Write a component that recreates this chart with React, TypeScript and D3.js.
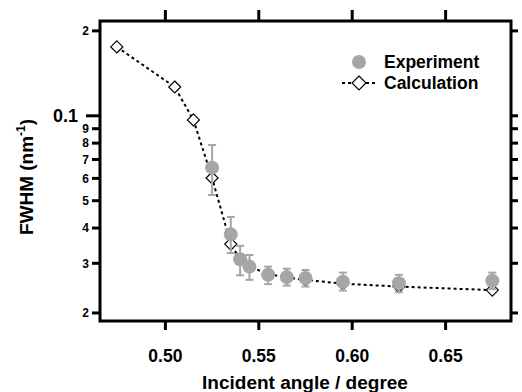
import React from "react";
import * as d3 from "d3";

const calcX = [0.474, 0.505, 0.515, 0.525, 0.535, 0.54, 0.545, 0.555, 0.565, 0.575, 0.595, 0.625, 0.675];
const calcY = [0.1755, 0.1265, 0.0967, 0.0602, 0.0351, 0.031, 0.0292, 0.0275, 0.0267, 0.0262, 0.0254, 0.0248, 0.0241];

const expX = [0.525, 0.535, 0.54, 0.545, 0.555, 0.565, 0.575, 0.595, 0.625, 0.675];
const expY = [0.0655, 0.038, 0.031, 0.0292, 0.0273, 0.0268, 0.0266, 0.0258, 0.0255, 0.026];
const expHi = [0.0788, 0.0438, 0.0346, 0.0321, 0.0292, 0.0287, 0.0284, 0.0278, 0.0273, 0.0278];
const expLo = [0.0524, 0.0326, 0.0272, 0.0262, 0.0253, 0.025, 0.0248, 0.024, 0.0237, 0.0243];

const xTicks = [0.5, 0.55, 0.6, 0.65];
const yTicks = [0.02, 0.03, 0.04, 0.05, 0.06, 0.07, 0.08, 0.09, 0.1, 0.2];
const yTickLabels = ["2", "3", "4", "5", "6", "7", "8", "9", "0.1", "2"];

const GRAY = "#a6a6a6";
const FONT = "Arial, 'Liberation Sans', sans-serif";

export default function App() {
  const L = 100, R = 511, T = 21, B = 321;
  const x = d3.scaleLinear().domain([0.465, 0.685]).range([L, R]);
  const y = d3.scaleLog().domain([0.01873, 0.2168]).range([B, T]);

  const line = d3
    .line<number>()
    .x((_, i) => x(calcX[i]))
    .y((d) => y(d));

  const diamond = (cx: number, cy: number, s: number) =>
    `M${cx},${cy - s}L${cx + s},${cy}L${cx},${cy + s}L${cx - s},${cy}Z`;

  return (
    <svg
      width={522}
      height={392}
      style={{ position: "absolute", left: 0, top: 0, background: "#fff" }}
      fontFamily={FONT}
      fontWeight="bold"
    >
      <rect x={0} y={0} width={522} height={392} fill="#fff" />

      {/* calculation line */}
      <path d={line(calcY) || ""} fill="none" stroke="#000" strokeWidth={2} strokeDasharray="3,3" />
      {calcY.map((v, i) => (
        <path key={"d" + i} d={diamond(x(calcX[i]), y(v), 6)} fill="#fff" stroke="#000" strokeWidth={1.2} />
      ))}

      {/* experiment error bars & points */}
      {expY.map((v, i) => {
        const cx = x(expX[i]);
        return (
          <g key={"e" + i} stroke={GRAY} strokeWidth={2}>
            <line x1={cx} x2={cx} y1={y(expHi[i])} y2={y(expLo[i])} />
            <line x1={cx - 4} x2={cx + 4} y1={y(expHi[i])} y2={y(expHi[i])} />
            <line x1={cx - 4} x2={cx + 4} y1={y(expLo[i])} y2={y(expLo[i])} />
          </g>
        );
      })}
      {expY.map((v, i) => (
        <circle key={"c" + i} cx={x(expX[i])} cy={y(v)} r={7} fill={GRAY} />
      ))}

      {/* frame */}
      <rect x={L} y={T} width={R - L} height={B - T} fill="none" stroke="#000" strokeWidth={3} />

      {/* x ticks bottom & top */}
      {xTicks.map((t) => (
        <g key={"xt" + t}>
          <line x1={x(t)} x2={x(t)} y1={B} y2={B + 9} stroke="#000" strokeWidth={3} />
          <line x1={x(t)} x2={x(t)} y1={T} y2={T - 11} stroke="#000" strokeWidth={3} />
          <text x={x(t)} y={362} textAnchor="middle" fontSize={17.5} fill="#000">
            {t.toFixed(2)}
          </text>
        </g>
      ))}

      {/* y ticks left & right */}
      {yTicks.map((t, i) => {
        const major = t === 0.1;
        const len = major ? 14 : 8;
        return (
          <g key={"yt" + t}>
            <line x1={L} x2={L - len} y1={y(t)} y2={y(t)} stroke="#000" strokeWidth={3} />
            <line x1={R} x2={R + 7} y1={y(t)} y2={y(t)} stroke="#000" strokeWidth={3} />
            <text
              x={major ? 78 : 89}
              y={y(t)}
              dy="0.36em"
              textAnchor="end"
              fontSize={major ? 18 : 12}
              fill="#000"
            >
              {yTickLabels[i]}
            </text>
          </g>
        );
      })}

      {/* axis titles */}
      <text x={305} y={389} textAnchor="middle" fontSize={19} fill="#000">
        Incident angle / degree
      </text>
      <text transform="translate(33,177) rotate(-90)" textAnchor="middle" fontSize={19} fill="#000">
        FWHM (nm
        <tspan fontSize={12} dy={-8}>-1</tspan>
        <tspan dy={8}>)</tspan>
      </text>

      {/* legend */}
      <circle cx={359} cy={62} r={7} fill={GRAY} />
      <text x={384} y={62} dy="0.36em" fontSize={17.5} fill="#000">
        Experiment
      </text>
      <line x1={342} x2={377} y1={83} y2={83} stroke="#000" strokeWidth={2} strokeDasharray="3,3" />
      <path d={diamond(359, 83, 7)} fill="#fff" stroke="#000" strokeWidth={1.2} />
      <text x={384} y={83} dy="0.36em" fontSize={17.5} fill="#000">
        Calculation
      </text>
    </svg>
  );
}
